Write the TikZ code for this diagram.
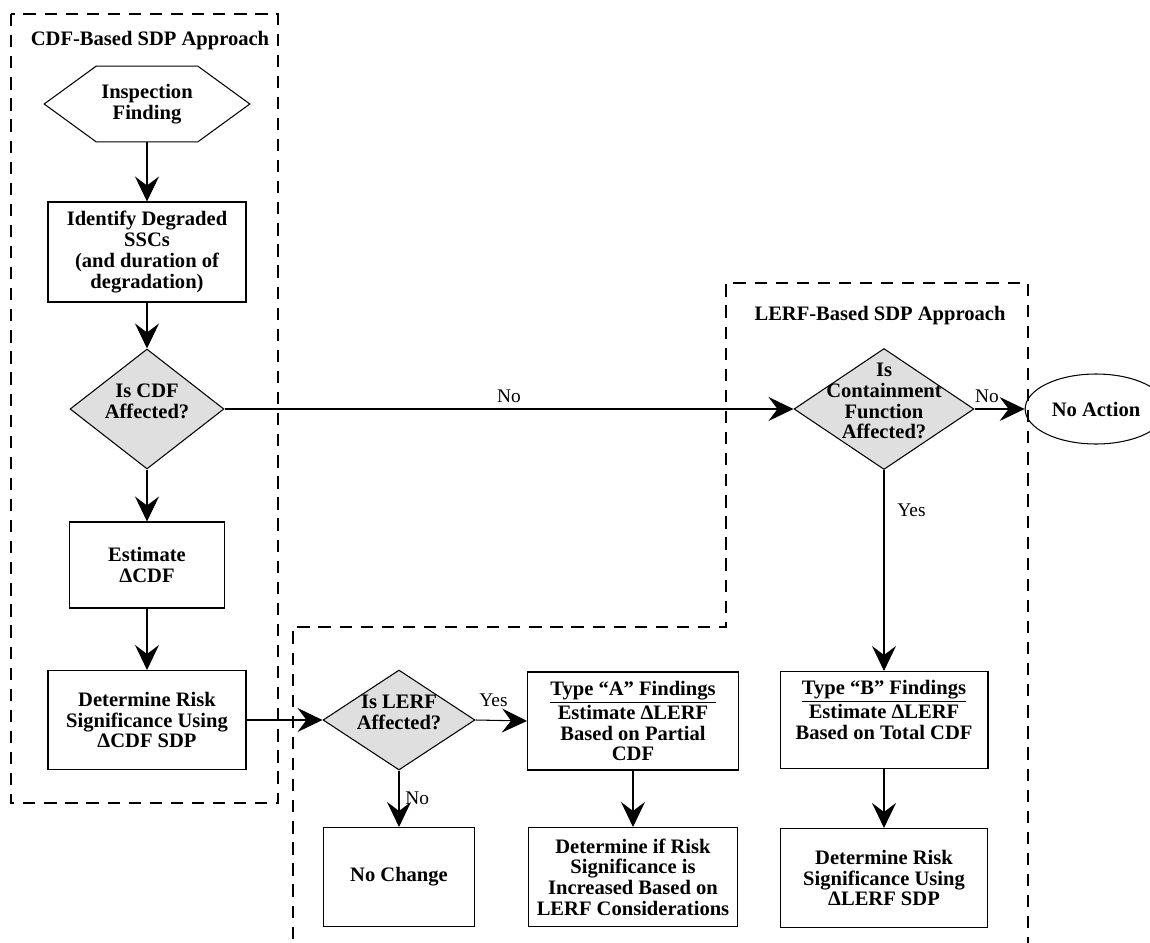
\documentclass[tikz,border=0pt]{standalone}
\usepackage{fontspec}
\setmainfont{Liberation Serif}
\usepackage{tikz}
\usetikzlibrary{arrows.meta}
\usetikzlibrary{shapes.geometric, calc}

\newcommand{\dlines}[1]{\smash{\makebox[0pt]{\begin{tabular}{@{}c@{}}#1\end{tabular}}}}

\begin{document}
\begin{tikzpicture}[x=0.02cm, y=-0.02cm,
    every node/.style={font=\fontsize{11.7}{11.8}\selectfont\bfseries},
    box/.style={draw, rectangle, align=center, inner sep=0pt, line width=0.6pt},
    decision/.style={draw, diamond, fill=gray!25, inner sep=0pt, line width=0.6pt},
    region/.style={dash pattern=on 7pt off 5pt, line width=0.6pt},
    flow/.style={line width=0.6pt, arrows=-{Stealth[length=5mm, width=4.8mm, inset=1.8mm]}},
    lbl/.style={font=\fontsize{11}{12}\selectfont}]
          \useasboundingbox (0,0) rectangle (1150,943);

          \draw [region] (11,14) rectangle (278,803); % Draws the CDF region
          \draw [region] (293,960) -- (293,627) -- (726,627) -- (726,283) -- (1028,283) -- (1028,960); % Draws the LERF region

          \node (cdftitle) at (150,41) {CDF-Based SDP Approach};
          \node (lerftitle) at (880,316) {LERF-Based SDP Approach};

          \node [inner sep=0pt, minimum width=4.1cm, minimum height=1.5cm, align=center] (insp) at (147,104) {Inspection\\Finding};
          \draw [line width=0.6pt] (insp.west) -- ($(insp.north west)+(52,0)$) -- ($(insp.north east)+(-52,0)$)
                -- (insp.east) -- ($(insp.south east)+(-52,0)$) -- ($(insp.south west)+(52,0)$) -- cycle; % Draws the hexagon

          \node [box, minimum width=3.96cm, minimum height=2cm] (ssc) at (147,252) {Identify Degraded\\SSCs\\(and duration of\\degradation)}; % Draws a rectangle
          \node [decision, minimum width=3.08cm, minimum height=2.4cm] (cdfq) at (147,409) {\dlines{Is CDF\\Affected?}};
          \node [box, minimum width=3.1cm, minimum height=1.72cm] (dcdf) at (147,565) {Estimate\\ΔCDF}; % Draws a rectangle
          \node [box, minimum width=3.96cm, minimum height=1.98cm] (rsig) at (147,720) {Determine Risk\\Significance Using\\ΔCDF SDP}; % Draws a rectangle

          \node [decision, minimum width=3.04cm, minimum height=2cm] (lerfq) at (399,720) {\dlines{Is LERF\\Affected?}};
          \node [box, minimum width=3.02cm, minimum height=1.98cm] (nochg) at (399,877) {No Change}; % Draws a rectangle
          \node [box, minimum width=4.22cm, minimum height=1.96cm] (typea) at (633,721) {\underline{Type ``A'' Findings}\\Estimate ΔLERF\\Based on Partial\\CDF}; % Draws a rectangle
          \node [box, minimum width=4.18cm, minimum height=1.98cm] (incr) at (633,877) {Determine if Risk\\Significance is\\Increased Based on\\LERF Considerations}; % Draws a rectangle

          \node [decision, minimum width=3.6cm, minimum height=2.42cm] (contq) at (884,409) {\dlines{Is\\Containment\\Function\\Affected?}};
          \node [draw, ellipse, line width=0.6pt, minimum width=2.64cm, minimum height=1.4cm] (noact) at (1096,409) {No Action};
          \node [box, minimum width=4.16cm, minimum height=1.94cm] (typeb) at (884,720) {\underline{Type ``B'' Findings}\\Estimate ΔLERF\\Based on Total CDF\\~}; % Draws a rectangle
          \node [box, minimum width=4.14cm, minimum height=1.98cm] (lsig) at (884,878) {Determine Risk\\Significance Using\\ΔLERF SDP}; % Draws a rectangle

          \draw [flow] (insp.south) -- (ssc.north);
          \draw [flow] (ssc.south) -- (cdfq.north);
          \draw [flow] (cdfq.south) -- (dcdf.north);
          \draw [flow] (dcdf.south) -- (rsig.north);
          \draw [flow] (rsig.east) -- (lerfq.west);

          \draw [flow] (lerfq.east) -- (typea.west) node [lbl, pos=0.35, above, yshift=4pt] {Yes};
          \draw [flow] (lerfq.south) -- (nochg.north) node [lbl, midway, right] {No};
          \draw [flow] (typea.south) -- (incr.north);

          \draw [flow] (cdfq.east) -- (contq.west) node [lbl, midway, above] {No};
          \draw [flow] (contq.east) -- (noact.west) node [lbl, pos=0.25, above] {No};
          \draw [flow] (contq.south) -- (typeb.north) node [lbl, pos=0.2, right, xshift=4pt] {Yes};
          \draw [flow] (typeb.south) -- (lsig.north);
        \end{tikzpicture}
\end{document}
